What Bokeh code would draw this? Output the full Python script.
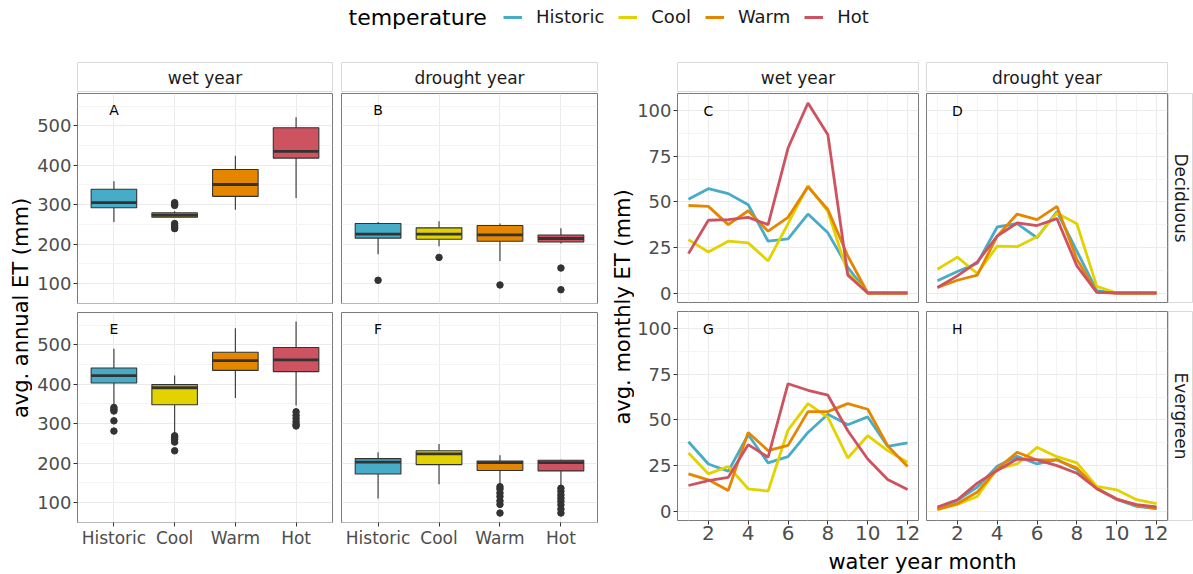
import math
from bokeh.plotting import figure
from bokeh.layouts import row, column
from bokeh.models import (Range1d, FixedTicker, Label, Legend, LegendItem,
                          ColumnDataSource, Spacer, Grid, LinearAxis)
from bokeh.embed import file_html
from bokeh.resources import INLINE

FONT = "DejaVu Sans"

# ---------------- data ----------------
temps = ["Historic", "Cool", "Warm", "Hot"]
temp_colors = ["#46ACC8", "#E2D200", "#E58601", "#CD5360"]
months = list(range(1, 13))

# annual ET box statistics (mm), order = temps
box_A = dict(lower=[256, 267, 287, 317], q1=[292, 268, 321, 418], median=[305, 273, 351, 435],
             q3=[339, 279, 389, 495], upper=[359, 283, 424, 522])
box_B = dict(lower=[174, 194, 157, 201], q1=[215, 212, 207, 205], median=[225, 225, 223, 214],
             q3=[252, 241, 247, 223], upper=[256, 258, 252, 240])
box_E = dict(lower=[347, 275, 365, 346], q1=[403, 348, 435, 432], median=[422, 391, 460, 462],
             q3=[441, 399, 481, 493], upper=[490, 422, 542, 559])
box_F = dict(lower=[110, 146, 149, 140], q1=[172, 196, 181, 180], median=[202, 223, 201, 201],
             q3=[211, 231, 205, 207], upper=[227, 248, 220, 208])

out_A_cat = ["Cool"] * 7
out_A_val = [305, 301, 298, 252, 247, 243, 239]
out_B_cat = ["Historic", "Cool", "Warm", "Hot", "Hot"]
out_B_val = [108, 166, 96, 139, 84]
out_E_cat = ["Historic"] * 5 + ["Cool"] * 5 + ["Hot"] * 6
out_E_val = [341, 336, 332, 307, 281, 269, 265, 260, 253, 231, 330, 321, 313, 305, 298, 294]
out_F_cat = ["Warm"] * 7 + ["Hot"] * 8
out_F_val = [140, 134, 124, 115, 104, 95, 73, 136, 128, 119, 111, 103, 94, 83, 73]

# monthly ET (mm)
C_hist = [51.4, 57.2, 54.5, 48.4, 28.4, 29.7, 43.3, 33.0, 14.0, 0, 0, 0]
C_cool = [29.3, 22.5, 28.4, 27.5, 17.6, 38.0, 58.9, 44.7, 11.0, 0, 0, 0]
C_warm = [48.0, 47.5, 37.5, 45.1, 33.9, 41.5, 58.2, 45.8, 20.3, 0, 0, 0]
C_hot = [21.6, 39.9, 40.2, 41.5, 37.5, 79.5, 104.2, 86.8, 9.8, 0, 0, 0]

D_hist = [6.7, 11.8, 16.3, 36.2, 38.0, 30.3, 44.7, 23.0, 1.3, 0, 0, 0]
D_cool = [13.0, 19.7, 10.7, 25.7, 25.4, 30.8, 43.8, 38.0, 3.6, 0, 0, 0]
D_warm = [3.0, 7.0, 9.8, 31.2, 43.3, 40.2, 47.5, 18.5, 0.5, 0, 0, 0]
D_hot = [3.0, 9.4, 17.0, 31.2, 38.4, 37.0, 40.8, 14.9, 0.4, 0, 0, 0]

G_hist = [38.0, 25.8, 21.8, 41.8, 26.4, 29.8, 43.1, 53.1, 47.3, 51.6, 35.5, 37.3]
G_cool = [31.8, 20.4, 24.4, 12.2, 10.9, 44.4, 58.9, 51.3, 29.1, 41.3, 33.1, 26.7]
G_warm = [20.4, 17.1, 11.3, 43.1, 33.1, 36.0, 54.5, 54.5, 58.9, 55.8, 35.8, 24.4]
G_hot = [14.0, 16.7, 18.5, 36.4, 29.5, 69.8, 66.2, 63.5, 44.0, 28.5, 17.3, 11.8]

H_hist = [1.3, 5.8, 13.1, 24.5, 30.0, 25.8, 28.2, 22.7, 12.7, 6.4, 2.5, 1.3]
H_cool = [0.7, 3.6, 8.0, 23.1, 25.8, 34.9, 29.8, 26.4, 13.5, 11.6, 6.2, 4.0]
H_warm = [0.9, 4.0, 10.4, 23.1, 32.2, 28.0, 28.0, 23.5, 12.2, 6.7, 3.1, 1.3]
H_hot = [2.2, 6.2, 15.3, 22.2, 28.5, 28.0, 24.9, 20.7, 12.2, 6.4, 3.5, 2.2]

left_yticks = [100, 200, 300, 400, 500]
left_yminor = [50, 150, 250, 350, 450, 550]
right_yticks = [0, 25, 50, 75, 100]
right_yminor = [12.5, 37.5, 62.5, 87.5]
right_xticks = [2, 4, 6, 8, 10, 12]
right_xminor = [1, 3, 5, 7, 9, 11]

# ---------------- styling helpers ----------------
BORDER = "#7A7A7A"
GRID = "#EBEBEB"
GRID_MINOR = "#F4F4F4"
TICK_TXT = "#4D4D4D"


def base(width, height, xr, yr, left, right, top, bottom):
    p = figure(width=width, height=height, x_range=xr, y_range=yr,
               x_axis_type=None, y_axis_type=None,
               min_border_left=left, min_border_right=right,
               min_border_top=top, min_border_bottom=bottom,
               output_backend="svg", toolbar_location=None)
    p.background_fill_color = "white"
    p.border_fill_color = "white"
    return p


def panel(width, height, xr, yr, left, right, top, bottom, xt, xminor, yt, yminor):
    p = base(width, height, xr, yr, left, right, top, bottom)
    p.outline_line_color = BORDER
    p.outline_line_width = 1
    p.add_layout(Grid(dimension=0, ticker=FixedTicker(ticks=xt, minor_ticks=xminor),
                      grid_line_color=GRID, grid_line_width=1,
                      minor_grid_line_color=GRID_MINOR, minor_grid_line_width=1))
    p.add_layout(Grid(dimension=1, ticker=FixedTicker(ticks=yt, minor_ticks=yminor),
                      grid_line_color=GRID, grid_line_width=1,
                      minor_grid_line_color=GRID_MINOR, minor_grid_line_width=1))
    return p


def style_axis(ax, size):
    ax.axis_line_color = None
    ax.major_tick_line_color = "#333333"
    ax.major_tick_out = 4
    ax.major_tick_in = 0
    ax.minor_tick_line_color = None
    ax.major_label_text_color = TICK_TXT
    ax.major_label_text_font = FONT
    ax.major_label_text_font_size = size
    ax.major_label_standoff = 2


def add_yaxis(p, ticks, size):
    ax = LinearAxis(ticker=FixedTicker(ticks=ticks))
    style_axis(ax, size)
    p.add_layout(ax, "left")


def add_xaxis(p, ticks, size, overrides=None):
    ax = LinearAxis(ticker=FixedTicker(ticks=ticks))
    if overrides:
        ax.major_label_overrides = overrides
    style_axis(ax, size)
    ax.major_label_standoff = 1
    p.add_layout(ax, "below")


def strip(width, height, left, right, top, bottom, text, angle=0.0):
    s = base(width, height, Range1d(0, 1), Range1d(0, 1), left, right, top, bottom)
    s.outline_line_color = "#D9D9D9"
    s.outline_line_width = 1
    s.add_layout(Label(x=0.5, y=0.5, text=text, text_align="center", text_baseline="middle",
                       angle=angle, text_font=FONT, text_font_size="17px", text_color="#1A1A1A"))
    return s


def letter(p, x, y, t):
    p.add_layout(Label(x=x, y=y, text=t, text_align="center", text_baseline="middle",
                       text_font=FONT, text_font_size="14px", text_color="black"))


BOX_W = 0.75


def add_boxes(p, stats, out_cat, out_val):
    xs = [temps.index(t) + 1 for t in temps]
    src = ColumnDataSource(dict(x=xs, x0=[x - BOX_W / 2 for x in xs], x1=[x + BOX_W / 2 for x in xs],
                                lower=stats["lower"], q1=stats["q1"], median=stats["median"],
                                q3=stats["q3"], upper=stats["upper"], color=temp_colors))
    p.segment(x0="x", y0="q3", x1="x", y1="upper", source=src, line_color="#333333", line_width=1.1)
    p.segment(x0="x", y0="q1", x1="x", y1="lower", source=src, line_color="#333333", line_width=1.1)
    p.vbar(x="x", width=BOX_W, top="q3", bottom="q1", source=src, fill_color="color",
           line_color="#333333", line_width=1.1)
    p.segment(x0="x0", y0="median", x1="x1", y1="median", source=src, line_color="#333333", line_width=2.8)
    p.scatter(x=[temps.index(c) + 1 for c in out_cat], y=out_val, size=6.5,
              fill_color="#333333", line_color="#333333")


def add_lines(p, series):
    for vals, col in zip(series, temp_colors):
        p.line(months, vals, line_color=col, line_width=2.8)


# ---------------- left block (annual boxplots) ----------------
L_yr = Range1d(49, 582)
L_xr = Range1d(0.4, 4.6)
cat_ticks = [1, 2, 3, 4]
cat_over = {i + 1: t for i, t in enumerate(temps)}

sA = strip(304, 31, 45, 4, 1, 0, "wet year")
sB = strip(262, 31, 5, 1, 1, 0, "drought year")

pA = panel(304, 219, L_xr, L_yr, 45, 4, 1, 8, cat_ticks, [], left_yticks, left_yminor)
add_yaxis(pA, left_yticks, "18px")
add_boxes(pA, box_A, out_A_cat, out_A_val)
letter(pA, 1, 540, "A")

pB = panel(262, 219, L_xr, L_yr, 5, 1, 1, 8, cat_ticks, [], left_yticks, left_yminor)
add_boxes(pB, box_B, out_B_cat, out_B_val)
letter(pB, 1, 540, "B")

pE = panel(304, 263, L_xr, L_yr, 45, 4, 1, 52, cat_ticks, [], left_yticks, left_yminor)
add_yaxis(pE, left_yticks, "18px")
add_xaxis(pE, cat_ticks, "17px", cat_over)
add_boxes(pE, box_E, out_E_cat, out_E_val)
letter(pE, 1, 540, "E")

pF = panel(262, 263, L_xr, L_yr, 5, 1, 1, 52, cat_ticks, [], left_yticks, left_yminor)
add_xaxis(pF, cat_ticks, "17px", cat_over)
add_boxes(pF, box_F, out_F_cat, out_F_val)
letter(pF, 1, 540, "F")

ytL = base(24, 429, Range1d(0, 1), Range1d(0, 1), 0, 0, 0, 0)
ytL.outline_line_color = None
ytL.add_layout(Label(x=0.5, y=0.5, text="avg. annual ET (mm)", angle=math.pi / 2,
                     text_align="center", text_baseline="middle",
                     text_font=FONT, text_font_size="21px", text_color="black"))

left_block = row(
    column(Spacer(width=24, height=32), ytL, Spacer(width=24, height=52)),
    column(row(sA, sB), row(pA, pB), row(pE, pF)),
)

# ---------------- right block (monthly lines) ----------------
R_xr = Range1d(0.45, 12.55)
R_yr = Range1d(-5.2, 109.4)

sC = strip(288, 31, 43, 4, 1, 0, "wet year")
sD = strip(246, 31, 4, 1, 1, 0, "drought year")

pC = panel(288, 218, R_xr, R_yr, 43, 4, 1, 8, right_xticks, right_xminor, right_yticks, right_yminor)
add_yaxis(pC, right_yticks, "18px")
add_lines(pC, [C_hist, C_cool, C_warm, C_hot])
letter(pC, 2, 100, "C")

pD = panel(246, 218, R_xr, R_yr, 4, 1, 1, 8, right_xticks, right_xminor, right_yticks, right_yminor)
add_lines(pD, [D_hist, D_cool, D_warm, D_hot])
letter(pD, 2, 100, "D")

sDec = strip(25, 218, 0, 1, 1, 8, "Deciduous", angle=-math.pi / 2)

pG = panel(288, 238, R_xr, R_yr, 43, 4, 1, 28, right_xticks, right_xminor, right_yticks, right_yminor)
add_yaxis(pG, right_yticks, "18px")
add_xaxis(pG, right_xticks, "20px")
add_lines(pG, [G_hist, G_cool, G_warm, G_hot])
letter(pG, 2, 100, "G")

pH = panel(246, 238, R_xr, R_yr, 4, 1, 1, 28, right_xticks, right_xminor, right_yticks, right_yminor)
add_xaxis(pH, right_xticks, "20px")
add_lines(pH, [H_hist, H_cool, H_warm, H_hot])
letter(pH, 2, 100, "H")

sEv = strip(25, 238, 0, 1, 1, 28, "Evergreen", angle=-math.pi / 2)

xt = base(559, 26, Range1d(0, 559), Range1d(0, 26), 0, 0, 0, 0)
xt.outline_line_color = None
xt.add_layout(Label(x=288, y=13, text="water year month", text_align="center",
                    text_baseline="middle", text_font=FONT, text_font_size="21px",
                    text_color="black"))

ytR = base(24, 427, Range1d(0, 1), Range1d(0, 1), 0, 0, 0, 0)
ytR.outline_line_color = None
ytR.add_layout(Label(x=0.5, y=0.5, text="avg. monthly ET (mm)", angle=math.pi / 2,
                     text_align="center", text_baseline="middle",
                     text_font=FONT, text_font_size="21px", text_color="black"))

right_block = row(
    column(Spacer(width=24, height=32), ytR, Spacer(width=24, height=54)),
    column(row(sC, sD, Spacer(width=25, height=31)),
           row(pC, pD, sDec),
           row(pG, pH, sEv),
           xt),
)

# ---------------- legend ----------------
lg = base(1193, 61, Range1d(0, 1193), Range1d(0, 61), 0, 0, 0, 0)
lg.outline_line_color = None
lg.add_layout(Label(x=348, y=44, text="temperature", text_align="left", text_baseline="middle",
                    text_font=FONT, text_font_size="22px", text_color="black"))
items = []
for t, c in zip(temps, temp_colors):
    r = lg.line(x=[float("nan")], y=[float("nan")], line_color=c, line_width=3)
    items.append(LegendItem(label=t, renderers=[r]))
legend = Legend(items=items, orientation="horizontal", location=(503, 34),
                glyph_width=19, glyph_height=20, label_standoff=14, spacing=14,
                padding=0, margin=0, border_line_color=None, background_fill_alpha=0,
                label_text_font=FONT, label_text_font_size="18px", label_text_color="#1A1A1A")
lg.add_layout(legend)

layout = column(lg, row(Spacer(width=8, height=513), left_block,
                        Spacer(width=12, height=513), right_block))

open("out.html", "w").write(file_html(layout, INLINE))
